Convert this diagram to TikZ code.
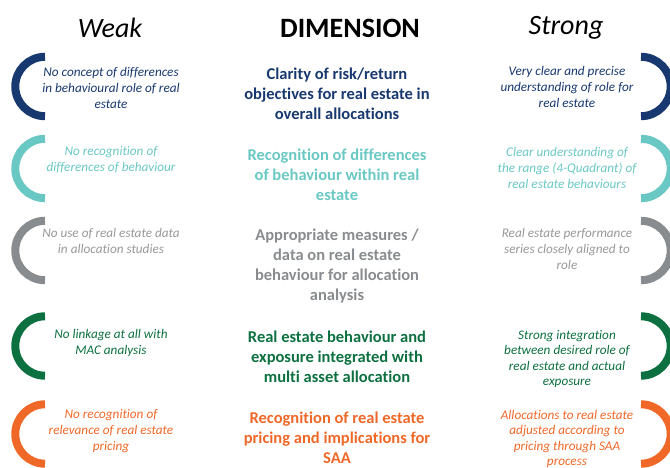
\documentclass[tikz,border=0pt]{standalone}
\usepackage{fontspec}
\setmainfont[Ligatures=NoCommon]{Carlito}
\definecolor{cnavy}{RGB}{24,56,112}
\definecolor{cteal}{RGB}{106,200,196}
\definecolor{cgray}{RGB}{137,140,142}
\definecolor{cgraytxt}{RGB}{150,152,154}
\definecolor{cgreen}{RGB}{12,112,64}
\definecolor{corange}{RGB}{240,104,40}
\tikzset{
  heading/.style={font=\fontsize{28}{32}\selectfont, text=black, inner sep=0pt},
  dimtext/.style={font=\fontsize{16.5}{20}\selectfont\bfseries, align=center, inner sep=0pt},
  sidetext/.style={font=\fontsize{13.2}{15.6}\selectfont\itshape, align=center, inner sep=0pt},
  bracket/.style={line width=8pt, line cap=butt},
}
\begin{document}
\begin{tikzpicture}[x=1pt,y=-1pt]
\useasboundingbox (0,0) rectangle (670,468);
\clip (0,0) rectangle (670,468);

% column headings
\node[heading, font=\fontsize{28}{32}\selectfont\itshape] (weak) at (110,28) {Weak};
\node[heading, font=\fontsize{28}{32}\selectfont\bfseries] (dim) at (350,28) {DIMENSION};
\node[heading, font=\fontsize{28}{32}\selectfont\itshape] (strong) at (566,28) {Strong};

% brackets: left ones open to the right, right ones open to the left
\def\rad{29.7}
\foreach \c/\col in {86.5/cnavy,168.5/cteal,250.5/cgray,346/cgreen,434/corange}{
  \draw[bracket, \col] (45,\c-\rad) arc[start angle=270, end angle=90, radius=\rad];
  \draw[bracket, \col] (641,\c-\rad) arc[start angle=270, end angle=450, radius=\rad];
}

% row 1
\node[sidetext, text=cnavy] (w1) at (111,88) {No concept of differences\\in behavioural role of real\\estate};
\node[dimtext, text=cnavy] (d1) at (337,94) {Clarity of risk/return\\objectives for real estate in\\overall allocations};
\node[sidetext, text=cnavy] (s1) at (567,87) {Very clear and precise\\understanding of role for\\real estate};

% row 2
\node[sidetext, text=cteal] (w2) at (111,160) {No recognition of\\differences of behaviour};
\node[dimtext, text=cteal] (d2) at (337,175) {Recognition of differences\\of behaviour within real\\estate};
\node[sidetext, text=cteal] (s2) at (567,168) {Clear understanding of\\the range (4-Quadrant) of\\real estate behaviours};

% row 3
\node[sidetext, text=cgraytxt] (w3) at (111,241) {No use of real estate data\\in allocation studies};
\node[dimtext, text=cgray] (d3) at (337,266) {Appropriate measures /\\data on real estate\\behaviour for allocation\\analysis};
\node[sidetext, text=cgraytxt] (s3) at (567,249) {Real estate performance\\series closely aligned to\\role};

% row 4
\node[sidetext, text=cgreen] (w4) at (111,343) {No linkage at all with\\MAC analysis};
\node[dimtext, text=cgreen] (d4) at (337,357) {Real estate behaviour and\\exposure integrated with\\multi asset allocation};
\node[sidetext, text=cgreen] (s4) at (567,359) {Strong integration\\between desired role of\\real estate and actual\\exposure};

% row 5
\node[sidetext, text=corange] (w5) at (111,431) {No recognition of\\relevance of real estate\\pricing};
\node[dimtext, text=corange] (d5) at (337,438) {Recognition of real estate\\pricing and implications for\\SAA};
\node[sidetext, text=corange] (s5) at (567,439) {Allocations to real estate\\adjusted according to\\pricing through SAA\\process};
\end{tikzpicture}
\end{document}
